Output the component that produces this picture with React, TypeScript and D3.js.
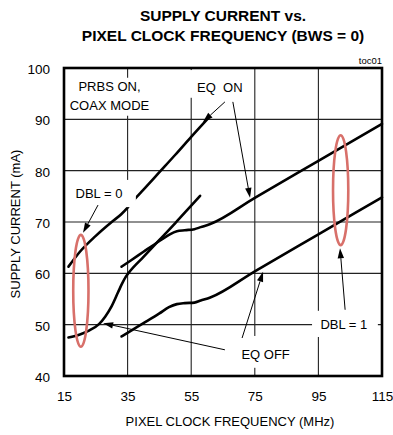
import React, { useEffect, useRef } from 'react';
import * as d3 from 'd3';

// Axis ticks
const xTicks = [15, 35, 55, 75, 95, 115];
const yTicks = [40, 50, 60, 70, 80, 90, 100];

// [pixel clock MHz, supply current mA]
const dbl0EqOn: [number, number][] = [
  [16.4, 61.3], [20, 64.2], [25, 67.3], [30, 70], [33, 71.5], [35, 72.8],
  [37, 74.3], [40, 76.3], [45, 79.7], [50, 83.1], [55, 86.6], [60.3, 90.2],
];
const dbl0EqOff: [number, number][] = [
  [16.4, 47.5], [20, 48.1], [23, 48.9], [26, 50.1], [28, 51.6], [30, 53.6],
  [32, 56.3], [33.1, 57.8], [34.5, 59.4], [36, 60.6], [40, 63.2], [45, 66.5],
  [50, 69.8], [55, 73.2], [57.8, 75.1],
];
const dbl1EqOn: [number, number][] = [
  [33.1, 61.3], [36, 62.5], [40, 64.2], [45, 66.3], [48, 67.5], [50.5, 68.2],
  [53, 68.4], [56, 68.6], [58, 69], [61, 69.6], [75, 74.7], [95, 81.9], [115, 89.1],
];
const dbl1EqOff: [number, number][] = [
  [33.1, 47.7], [36, 48.8], [40, 50.3], [45, 52.2], [48, 53.4], [50.5, 54],
  [53, 54.2], [56, 54.3], [58, 54.7], [61, 55.3], [75, 60.4], [95, 67.6], [115, 74.8],
];

const App = () => {
  const ref = useRef<SVGSVGElement | null>(null);

  useEffect(() => {
    const width = 393;
    const height = 435;
    const margin = { top: 68, right: 11, bottom: 59, left: 64 };
    const font = '"Liberation Sans", Arial, sans-serif';

    const svg = d3.select(ref.current);
    svg.selectAll('*').remove();

    const x = d3.scaleLinear().domain([15, 115]).range([margin.left, width - margin.right]);
    const y = d3.scaleLinear().domain([40, 100]).range([height - margin.bottom, margin.top]);

    // title
    svg.append('text').attr('x', 223).attr('y', 21).attr('text-anchor', 'middle')
      .attr('font-family', font).attr('font-weight', 'bold').attr('font-size', 15.5)
      .text('SUPPLY CURRENT vs.');
    svg.append('text').attr('x', 223).attr('y', 41).attr('text-anchor', 'middle')
      .attr('font-family', font).attr('font-weight', 'bold').attr('font-size', 15.5)
      .text('PIXEL CLOCK FREQUENCY (BWS = 0)');
    svg.append('text').attr('x', x(115)).attr('y', y(100) - 4).attr('text-anchor', 'end')
      .attr('font-family', font).attr('font-size', 9.5).text('toc01');

    // grid
    const grid = svg.append('g').attr('stroke', '#222').attr('stroke-width', 1.1);
    grid.selectAll('.gx').data(xTicks.slice(1, -1)).enter().append('line')
      .attr('x1', (d) => x(d)).attr('x2', (d) => x(d)).attr('y1', y(40)).attr('y2', y(100));
    grid.selectAll('.gy').data(yTicks.slice(1, -1)).enter().append('line')
      .attr('x1', x(15)).attr('x2', x(115)).attr('y1', (d) => y(d)).attr('y2', (d) => y(d));

    // axes (labels only)
    const xAxis = svg.append('g').attr('transform', `translate(0, ${y(40)})`)
      .call(d3.axisBottom(x).tickValues(xTicks).tickSize(0).tickPadding(15));
    const yAxis = svg.append('g').attr('transform', `translate(${x(15)}, 0)`)
      .call(d3.axisLeft(y).tickValues(yTicks).tickSize(0).tickPadding(14));
    [xAxis, yAxis].forEach((a) => {
      a.select('.domain').remove();
      a.selectAll('text').attr('font-family', font).attr('font-size', 13.5).attr('fill', '#000');
    });
    yAxis.selectAll('text').attr('dy', '0.4em');

    svg.append('text').attr('x', 230).attr('y', 426).attr('text-anchor', 'middle')
      .attr('font-family', font).attr('font-size', 13).text('PIXEL CLOCK FREQUENCY (MHz)');
    svg.append('text').attr('transform', 'translate(20, 224) rotate(-90)').attr('text-anchor', 'middle')
      .attr('font-family', font).attr('font-size', 13).text('SUPPLY CURRENT (mA)');

    // curves
    const line = d3.line<[number, number]>()
      .x((d) => x(d[0])).y((d) => y(d[1]))
      .curve(d3.curveMonotoneX);
    svg.selectAll('.curve').data([dbl0EqOn, dbl0EqOff, dbl1EqOn, dbl1EqOff]).enter()
      .append('path').attr('d', (d) => line(d)).attr('fill', 'none')
      .attr('stroke', '#000').attr('stroke-width', 2.6).attr('stroke-linecap', 'round');

    // labels with white boxes: [cx, baselines], box [x0, x1, yTop, yBottom] in data units
    const labels = [
      { text: ['PRBS ON,', 'COAX MODE'], cx: 29.3, base: [95.5, 91.8], box: [16.3, 42.7, 98.1, 90.7] },
      { text: ['EQ  ON'], cx: 64.0, base: [95.3], box: [54.3, 73.2, 99.6, 94.2] },
      { text: ['DBL = 0'], cx: 26.0, base: [74.6], box: [17.5, 37.6, 78.2, 72.9] },
      { text: ['DBL = 1'], cx: 103.0, base: [49.1], box: [93.0, 113.7, 52.7, 47.6] },
      { text: ['EQ OFF'], cx: 78.4, base: [43.4], box: [67.8, 88.6, 47.8, 41.6] },
    ];
    labels.forEach((l) => {
      svg.append('rect').attr('x', x(l.box[0])).attr('y', y(l.box[2]))
        .attr('width', x(l.box[1]) - x(l.box[0])).attr('height', y(l.box[3]) - y(l.box[2]))
        .attr('fill', '#fff');
      l.text.forEach((t, i) => {
        svg.append('text').attr('x', x(l.cx)).attr('y', y(l.base[i])).attr('text-anchor', 'middle')
          .attr('font-family', font).attr('font-size', 13).style('white-space', 'pre').text(t);
      });
    });

    // frame
    svg.append('rect').attr('x', x(15)).attr('y', y(100))
      .attr('width', x(115) - x(15)).attr('height', y(40) - y(100))
      .attr('fill', 'none').attr('stroke', '#000').attr('stroke-width', 2.6);

    // arrows: tail -> tip
    const arrows: [number, number, number, number][] = [
      [25.7, 73.3, 21.0, 67.9],
      [65.6, 93.4, 58.7, 89.5],
      [68.1, 93.4, 73.5, 74.7],
      [65.6, 45.1, 27.3, 50.3],
      [71.0, 47.4, 77.6, 60.3],
      [103.4, 52.9, 101.8, 64.9],
    ];
    arrows.forEach(([x0, y0, x1, y1]) => {
      const ax = x(x0), ay = y(y0), bx = x(x1), by = y(y1);
      const len = Math.hypot(bx - ax, by - ay);
      const ux = (bx - ax) / len, uy = (by - ay) / len;
      const hl = 10, hw = 3.2;
      const cx = bx - ux * hl, cy = by - uy * hl;
      svg.append('line').attr('x1', ax).attr('y1', ay).attr('x2', cx).attr('y2', cy)
        .attr('stroke', '#000').attr('stroke-width', 1);
      svg.append('polygon')
        .attr('points', `${bx},${by} ${cx - uy * hw},${cy + ux * hw} ${cx + uy * hw},${cy - ux * hw}`)
        .attr('fill', '#000');
    });

    // highlight ellipses [cx, cy, half width MHz, half height mA]
    const rings = [[20.3, 56.6, 2.4, 10.9], [102.0, 76.2, 2.4, 10.7]];
    svg.selectAll('.ring').data(rings).enter().append('ellipse')
      .attr('cx', (d) => x(d[0])).attr('cy', (d) => y(d[1]))
      .attr('rx', (d) => x(15 + d[2]) - x(15)).attr('ry', (d) => y(40) - y(40 + d[3]))
      .attr('fill', 'none').attr('stroke', '#d8706a').attr('stroke-width', 2.6);
  }, []);

  return (
    <svg ref={ref} width={393} height={435}
      style={{ position: 'absolute', left: 0, top: 0, background: '#fff' }} />
  );
};

export default App;
